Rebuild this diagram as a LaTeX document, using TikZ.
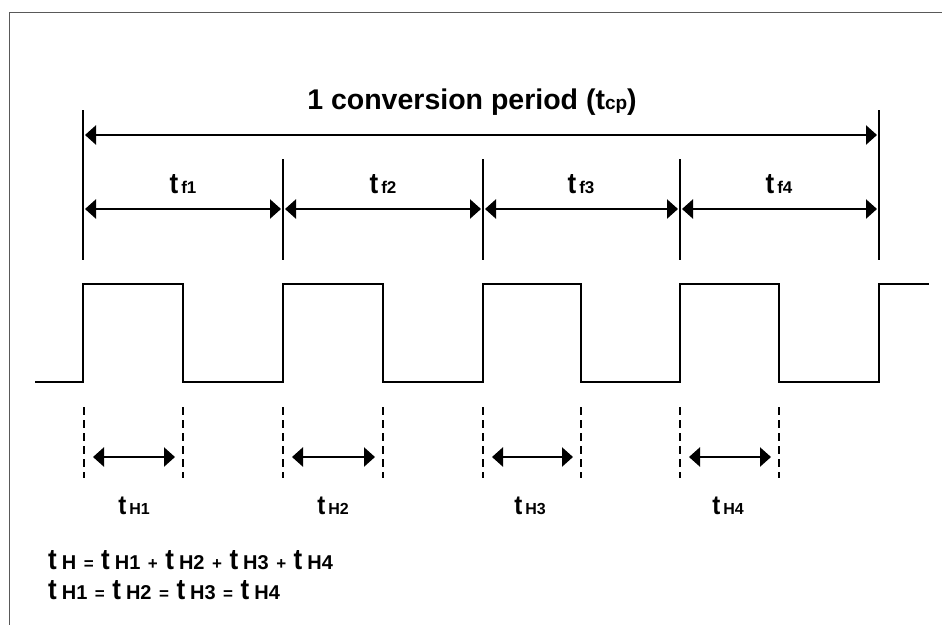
\documentclass[tikz,border=0pt]{standalone}
\usepackage{fontspec}
\setmainfont{Liberation Sans}
\usetikzlibrary{arrows.meta}
\newcommand\tglyph[1]{{\fontsize{#1}{#1}\selectfont\scalebox{1}[1.12]{t}}}
\newcommand\tlab[1]{\tglyph{26}\hspace{3pt}{\fontsize{17}{17}\selectfont #1}}
\newcommand\tq[1]{\tglyph{24}\hspace{3pt}{\fontsize{16}{16}\selectfont #1}}
\newcommand\te[1]{\tglyph{26}\hspace{5pt}{\fontsize{20}{20}\selectfont #1}}
\newcommand\eqop[1]{\hspace{7.5pt}{\fontsize{17}{17}\selectfont #1}\hspace{7.5pt}}
\tikzset{
  frame/.style={draw=black!65, line width=1pt},
  wave/.style={line width=2pt, line join=miter},
  vbar/.style={line width=2pt},
  dbar/.style={line width=2pt, dash pattern=on 8pt off 5pt},
  dim/.style={line width=2.5pt, {Triangle[length=11pt,width=19pt]}-{Triangle[length=11pt,width=19pt]}},
  lab/.style={font=\bfseries, inner sep=0pt, anchor=base},
}
\begin{document}
\begin{tikzpicture}[x=1pt,y=-1pt]
\useasboundingbox (0,0) rectangle (942,625);
\fill[white] (0,0) rectangle (942,625);
% frame
\coordinate (fa) at (942,12);
\coordinate (fb) at (9,12);
\coordinate (fc) at (9,625);
\draw[frame] (fa) -- (fb) -- (fc);
% title
\node[lab] (title) at (472,109) {\fontsize{28.5}{28.5}\selectfont 1 conversion period (t{\fontsize{19}{19}\selectfont cp})};
% vertical lines
\foreach \n/\x/\t/\b in {0/83/110/260, 1/283/159/260, 2/483/159/260, 3/680/159/260, 4/879/110/260}{
  \coordinate (vt\n) at (\x,\t);
  \coordinate (vb\n) at (\x,\b);
  \draw[vbar] (vt\n) -- (vb\n);
  \coordinate (a\n) at (\x,209);
}
\coordinate (A0) at (83,135);
\coordinate (A4) at (879,135);
\draw[dim] ([xshift=2pt]A0) -- ([xshift=-2pt]A4);
\foreach \i/\j in {0/1,1/2,2/3,3/4}{
  \draw[dim] ([xshift=2pt]a\i) -- ([xshift=-2pt]a\j);
}
\node[lab] (tf1) at (183,193) {\tlab{f1}};
\node[lab] (tf2) at (383,193) {\tlab{f2}};
\node[lab] (tf3) at (581,193) {\tlab{f3}};
\node[lab] (tf4) at (779,193) {\tlab{f4}};
% waveform
\coordinate (w0) at (35,382);
\coordinate (w9) at (929,284);
\draw[wave] (w0) -- (83,382) -- (83,284) -- (183,284) -- (183,382)
  -- (283,382) -- (283,284) -- (383,284) -- (383,382)
  -- (483,382) -- (483,284) -- (581,284) -- (581,382)
  -- (680,382) -- (680,284) -- (779,284) -- (779,382)
  -- (879,382) -- (879,284) -- (w9);
% dashed lines and tH arrows
\foreach \n/\l/\r in {1/84/183, 2/283/383, 3/483/581, 4/680/779}{
  \coordinate (dl\n) at (\l,407);
  \coordinate (dlb\n) at (\l,478);
  \coordinate (dr\n) at (\r,407);
  \coordinate (drb\n) at (\r,478);
  \draw[dbar] (dl\n) -- (dlb\n);
  \draw[dbar] (dr\n) -- (drb\n);
  \coordinate (hl\n) at (\l,457);
  \coordinate (hr\n) at (\r,457);
  \draw[dim] ([xshift=9pt]hl\n) -- ([xshift=-8pt]hr\n);
}
\node[lab] (th1) at (134,514) {\tq{H1}};
\node[lab] (th2) at (333,514) {\tq{H2}};
\node[lab] (th3) at (530,514) {\tq{H3}};
\node[lab] (th4) at (728,514) {\tq{H4}};
% equations
\node[lab, anchor=base west] (eq1) at (48,569) {\te{H}\eqop{=}\te{H1}\eqop{+}\te{H2}\eqop{+}\te{H3}\eqop{+}\te{H4}};
\node[lab, anchor=base west] (eq2) at (48,599) {\te{H1}\eqop{=}\te{H2}\eqop{=}\te{H3}\eqop{=}\te{H4}};
\end{tikzpicture}
\end{document}
